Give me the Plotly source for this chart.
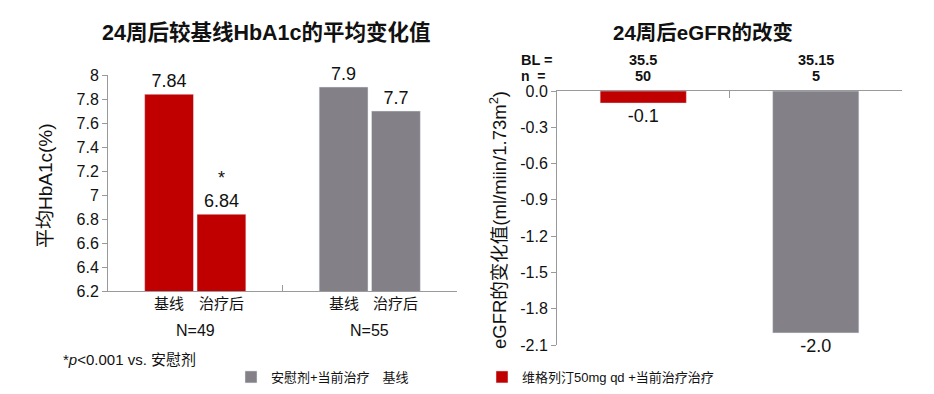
import plotly.graph_objects as go

# ---------------- data ----------------
# Left panel: HbA1c (%)
hba1c_groups = ["N=49", "N=55"]
hba1c_bar_labels = ["基线", "治疗后"]
hba1c_vilda = [7.84, 6.84]      # 维格列汀 group: baseline, after treatment
hba1c_placebo = [7.9, 7.7]      # 安慰剂 group: baseline, after treatment
hba1c_sig = ["", "*"]           # significance marks for vildagliptin bars
hba1c_yticks = [6.2, 6.4, 6.6, 6.8, 7.0, 7.2, 7.4, 7.6, 7.8, 8.0]

# Right panel: eGFR change
egfr_change = [-0.1, -2.0]      # vildagliptin, placebo
egfr_bl = ["35.5", "35.15"]
egfr_n = ["50", "5"]
egfr_yticks = [0.0, -0.3, -0.6, -0.9, -1.2, -1.5, -1.8, -2.1]

title_left = "24周后较基线HbA1c的平均变化值"
title_right = "24周后eGFR的改变"
ytitle_left = "平均HbA1c(%)"
ytitle_right = "eGFR的变化值(ml/miin/1.73m<sup>2</sup>)"
legend_placebo = "安慰剂+当前治疗　基线"
legend_vilda = "维格列汀50mg qd +当前治疗治疗"
footnote = "*<i>p</i>&lt;0.001 vs. 安慰剂"

RED = "#c00000"
GRAY = "#838187"
AX = "#9a9a9a"
TXT = "#111111"
FONT = "Liberation Sans, Arial, Noto Sans CJK SC, sans-serif"

W, H = 934, 394
def px(x): return x / W
def py(y): return 1 - y / H

# bar positions within each group slot (group index + offset)
offsets = [0.35, 0.65]
left_vilda_x = [0 + o for o in offsets]
left_placebo_x = [1 + o for o in offsets]
right_x = [i + 0.5 for i in range(len(egfr_change))]

fig = go.Figure()

fig.add_trace(go.Bar(
    x=left_vilda_x, y=hba1c_vilda, width=0.28, marker_color=RED,
    text=[(s + "<br>" if s else "") + f"{v:g}" for s, v in zip(hba1c_sig, hba1c_vilda)],
    textposition="outside", constraintext="none", cliponaxis=False,
    textfont=dict(size=18, color=TXT), showlegend=False,
    xaxis="x", yaxis="y", name=legend_vilda))
fig.add_trace(go.Bar(
    x=left_placebo_x, y=hba1c_placebo, width=0.28, marker_color=GRAY,
    text=[f"{v:g}" for v in hba1c_placebo],
    textposition="outside", constraintext="none", cliponaxis=False,
    textfont=dict(size=18, color=TXT), showlegend=True, legend="legend",
    xaxis="x", yaxis="y", name=legend_placebo))

fig.add_trace(go.Bar(
    x=[right_x[0]], y=[egfr_change[0]], width=0.5, marker_color=RED,
    text=[f"{egfr_change[0]:.1f}"], textposition="outside", constraintext="none",
    cliponaxis=False, textfont=dict(size=18, color=TXT),
    showlegend=True, legend="legend2", name=legend_vilda,
    xaxis="x2", yaxis="y2"))
fig.add_trace(go.Bar(
    x=[right_x[1]], y=[egfr_change[1]], width=0.5, marker_color=GRAY,
    text=[f"{egfr_change[1]:.1f}"], textposition="outside", constraintext="none",
    cliponaxis=False, textfont=dict(size=18, color=TXT),
    showlegend=False, name=legend_placebo,
    xaxis="x2", yaxis="y2"))

ann = []
# titles
ann.append(dict(text=f"<b>{title_left}</b>", x=px(266), y=py(33), xref="paper", yref="paper",
                showarrow=False, font=dict(size=21.5, color=TXT), xanchor="center", yanchor="middle"))
ann.append(dict(text=f"<b>{title_right}</b>", x=px(703), y=py(33), xref="paper", yref="paper",
                showarrow=False, font=dict(size=20.5, color=TXT), xanchor="center", yanchor="middle"))
# y titles
ann.append(dict(text=ytitle_left, x=px(45), y=py(186), xref="paper", yref="paper", textangle=-90,
                showarrow=False, font=dict(size=19, color=TXT), xanchor="center", yanchor="middle"))
ann.append(dict(text=ytitle_right, x=px(498), y=py(220), xref="paper", yref="paper", textangle=-90,
                showarrow=False, font=dict(size=18.5, color=TXT), xanchor="center", yanchor="middle"))
# bar labels and group labels
for xs in (left_vilda_x, left_placebo_x):
    for xv, lab in zip(xs, hba1c_bar_labels):
        ann.append(dict(text=lab, x=xv, y=py(303), xref="x", yref="paper", showarrow=False,
                        font=dict(size=15, color=TXT), xanchor="center", yanchor="middle"))
for gi, g in enumerate(hba1c_groups):
    ann.append(dict(text=g, x=gi + 0.5, y=py(330), xref="x", yref="paper", showarrow=False,
                    font=dict(size=16, color=TXT), xanchor="center", yanchor="middle"))
# BL / n rows
ann.append(dict(text="<b>BL =</b>", x=px(519), y=py(60), xref="paper", yref="paper", showarrow=False,
                font=dict(size=14.5, color=TXT), xanchor="left", yanchor="middle"))
ann.append(dict(text="<b>n  =</b>", x=px(519), y=py(76), xref="paper", yref="paper", showarrow=False,
                font=dict(size=14, color=TXT), xanchor="left", yanchor="middle"))
for xv, bl, n in zip(right_x, egfr_bl, egfr_n):
    ann.append(dict(text=f"<b>{bl}</b>", x=xv, y=py(60), xref="x2", yref="paper", showarrow=False,
                    font=dict(size=14.5, color=TXT), xanchor="center", yanchor="middle"))
    ann.append(dict(text=f"<b>{n}</b>", x=xv, y=py(76), xref="x2", yref="paper", showarrow=False,
                    font=dict(size=14.5, color=TXT), xanchor="center", yanchor="middle"))
# footnote
ann.append(dict(text=footnote, x=px(61), y=py(359), xref="paper", yref="paper", showarrow=False,
                font=dict(size=15, color=TXT), xanchor="left", yanchor="middle"))

axis_common = dict(showgrid=False, zeroline=False, showline=True, linecolor=AX, linewidth=1,
                   tickcolor=AX, tickfont=dict(size=16, color=TXT), automargin=False)

fig.update_layout(
    width=W, height=H, margin=dict(l=0, r=0, t=0, b=0, autoexpand=False),
    paper_bgcolor="white", plot_bgcolor="white",
    font=dict(family=FONT, color=TXT),
    barmode="overlay",
    xaxis=dict(domain=[px(108), px(457)], range=[0, 2], tickvals=[0, 1, 2], ticks="inside",
               ticklen=6, showticklabels=False, anchor="y", **axis_common),
    yaxis=dict(domain=[py(291), py(75)], range=[6.2, 8.0], tickvals=hba1c_yticks,
               ticktext=[f"{v:g}" for v in hba1c_yticks], ticks="outside", ticklen=5,
               anchor="x", **axis_common),
    xaxis2=dict(domain=[px(557), px(902)], range=[0, 2], tickvals=[0, 1, 2], ticks="inside",
                ticklen=7, showticklabels=False, side="top", anchor="y2", **axis_common),
    yaxis2=dict(domain=[py(345), py(91)], range=[-2.1, 0], tickvals=egfr_yticks,
                ticktext=[f"{v:.1f}" for v in egfr_yticks], ticks="outside", ticklen=5,
                anchor="x2", **axis_common),
    legend=dict(x=px(231), y=py(377), xanchor="left", yanchor="middle", bgcolor="rgba(0,0,0,0)",
                font=dict(size=13, color=TXT)),
    legend2=dict(x=px(482), y=py(377), xanchor="left", yanchor="middle", bgcolor="rgba(0,0,0,0)",
                 font=dict(size=13, color=TXT)),
    annotations=ann,
)

fig.write_html("out.html", config={"displayModeBar": False},
               post_script="document.body.style.margin='0';document.body.style.overflow='hidden';")
